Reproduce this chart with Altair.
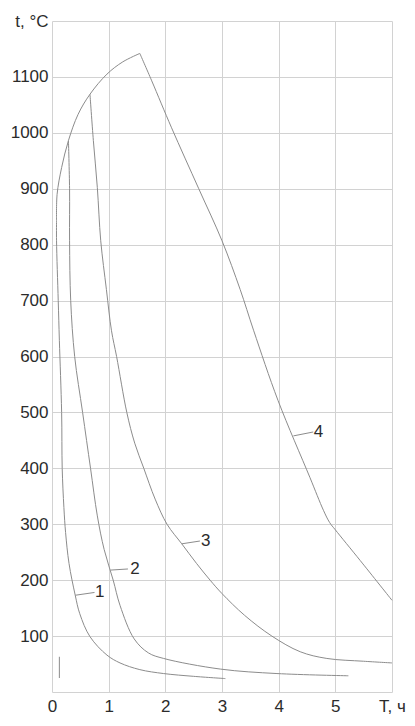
import altair as alt
import pandas as pd

# Heating envelope (common to all regimes)
arc_x = [0.08, 0.09, 0.17, 0.29, 0.46, 0.67, 0.97, 1.25, 1.55]
arc_t = [843, 890, 938, 986, 1033, 1069, 1105, 1127, 1142]

# Cooling curves
c1_x = [0.08, 0.08, 0.11, 0.13, 0.17, 0.18, 0.21, 0.24, 0.30, 0.41, 0.49, 0.67, 0.97, 1.2, 1.55, 1.97, 2.5, 3.06]
c1_t = [843, 807, 700, 629, 500, 400, 330, 285, 230, 173, 140, 99, 66, 52, 40, 33, 28, 24]

c2_x = [0.29, 0.31, 0.31, 0.33, 0.40, 0.54, 0.68, 0.80, 0.92, 1.08, 1.2, 1.45, 1.7, 1.97, 2.97, 3.97, 5.23]
c2_t = [986, 900, 807, 700, 600, 500, 400, 315, 255, 200, 155, 95, 70, 60, 41, 33, 29]

c3_x = [0.67, 0.73, 0.80, 0.86, 0.96, 1.05, 1.14, 1.32, 1.46, 1.62, 1.82, 2.03, 2.29, 2.55, 2.79, 3.0, 3.4, 3.88, 4.38, 4.85, 5.5, 6.0]
c3_t = [1069, 986, 902, 807, 720, 646, 600, 500, 445, 400, 345, 300, 265, 230, 200, 176, 137, 100, 72, 60, 55, 52]

c4_x = [1.55, 1.76, 2.11, 2.59, 3.0, 3.32, 3.56, 3.99, 4.55, 4.79, 4.9, 5.0, 5.44, 6.0]
c4_t = [1142, 1093, 1009, 900, 807, 720, 646, 521, 384, 325, 303, 290, 235, 164]

# Short initial segment near the origin
s_x = [0.13, 0.13]
s_t = [63, 25]

# Curve labels and their leader lines
lab_text = ["1", "2", "3", "4"]
lab_x = [0.76, 1.38, 2.63, 4.62]
lab_t = [178, 220, 270, 465]
lead_x1 = [0.41, 1.03, 2.29, 4.26]
lead_t1 = [173, 218, 265, 458]
lead_x2 = [0.75, 1.34, 2.61, 4.61]
lead_t2 = [178, 220, 270, 465]

x_ticks = [0, 1, 2, 3, 4, 5, 6]
y_ticks = list(range(0, 1300, 100))

rows = []
for name, xs, ts in [("arc", arc_x, arc_t), ("1", c1_x, c1_t), ("2", c2_x, c2_t),
                     ("3", c3_x, c3_t), ("4", c4_x, c4_t), ("s", s_x, s_t)]:
    for i, (xv, tv) in enumerate(zip(xs, ts)):
        rows.append({"curve": name, "i": i, "x": xv, "t": tv})
df = pd.DataFrame(rows)

labels = pd.DataFrame({"text": lab_text, "x": lab_x, "t": lab_t})
leaders = pd.DataFrame({"x": lead_x1, "t": lead_t1, "x2": lead_x2, "t2": lead_t2})

FONT = "Liberation Sans"
FS = 17
xscale = alt.Scale(domain=[0, 6], nice=False, zero=False)
yscale = alt.Scale(domain=[0, 1200], nice=False)

xaxis = alt.Axis(values=x_ticks, title=None, grid=True, domain=False, ticks=False,
                 labelExpr="datum.value == 6 ? 'T, ч' : datum.label", format="d",
                 labelFlush=False, labelOverlap=False, labelPadding=6,
                 labelFont=FONT, labelFontSize=FS, labelColor="#2b2b2b")
yaxis = alt.Axis(values=y_ticks, title=None, grid=True, domain=False, ticks=False,
                 labelExpr="datum.value == 1200 ? 't, °C' : (datum.value == 0 ? '' : datum.label)",
                 format="d", labelFlush=False, labelOverlap=False, labelPadding=4,
                 labelFont=FONT, labelFontSize=FS, labelColor="#2b2b2b")

lines = alt.Chart(df).mark_line(color="#8c8c8c", strokeWidth=1, interpolate="catmull-rom").encode(
    x=alt.X("x:Q", scale=xscale, axis=xaxis),
    y=alt.Y("t:Q", scale=yscale, axis=yaxis),
    detail="curve:N",
    order="i:Q",
)

lead = alt.Chart(leaders).mark_rule(color="#8c8c8c", strokeWidth=1).encode(
    x=alt.X("x:Q", scale=xscale), y=alt.Y("t:Q", scale=yscale),
    x2="x2:Q", y2="t2:Q",
)

text = alt.Chart(labels).mark_text(font=FONT, fontSize=FS, color="#2b2b2b",
                                   align="left", baseline="middle").encode(
    x=alt.X("x:Q", scale=xscale), y=alt.Y("t:Q", scale=yscale), text="text:N",
)

chart = alt.layer(lines, lead, text).properties(
    width=340, height=671,
    autosize=alt.AutoSizeParams(type="none"),
    padding={"left": 44, "top": 13, "right": 15, "bottom": 26},
    background="white",
).configure_view(strokeOpacity=0).configure_axis(gridColor="#d2d2d2", gridWidth=1)

chart.save("out.html", embed_options={"renderer": "svg", "actions": False})
